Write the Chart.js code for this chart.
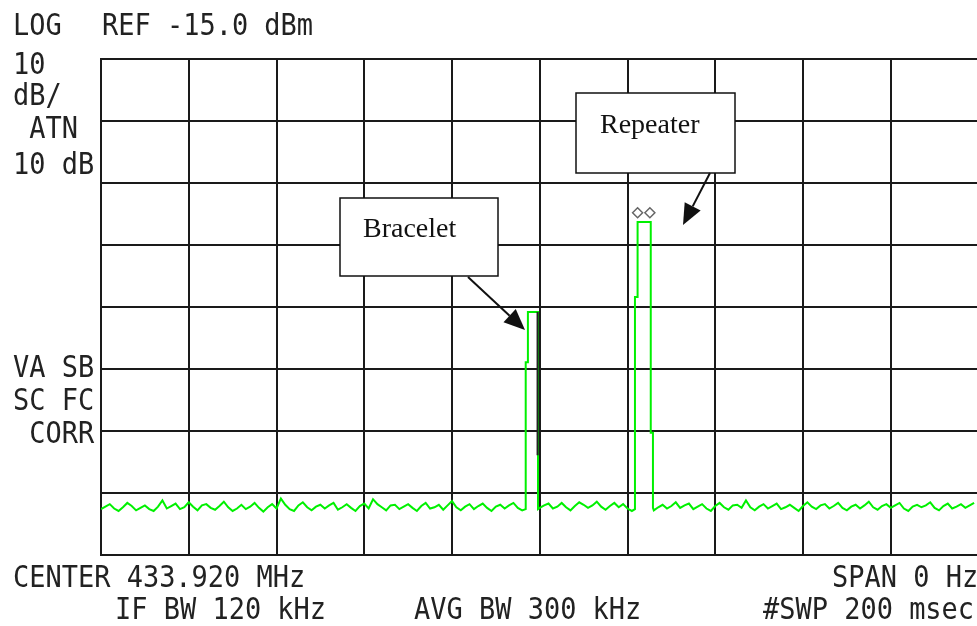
<!DOCTYPE html>
<html>
<head>
<meta charset="utf-8">
<script src="https://cdn.jsdelivr.net/npm/chart.js@4.4.1/dist/chart.umd.min.js"></script>
<style>
  html, body { margin: 0; padding: 0; background: #fff; overflow: hidden; }
  #wrap { width: 977px; height: 626px; overflow: hidden; }
</style>
</head>
<body>
<div id="wrap"><canvas id="trace" width="985" height="626"></canvas></div>
<script>
// sweep: 0 Hz span, 200 ms sweep -> x axis is time in ms, y is dBm
const refLevel = -15;
const dbPerDiv = 10;
const sweepMs = 200;

// noise floor, one value per ms
const noiseA = [ // 0..96 ms
  -87.6,-87.2,-86.8,-87.5,-87.9,-87.3,-86.6,-87.1,-87.8,-87.4,
  -87.0,-87.6,-87.9,-87.2,-86.2,-87.5,-87.1,-86.7,-87.6,-87.3,
  -86.5,-87.2,-87.8,-87.0,-86.8,-87.4,-87.7,-87.1,-86.4,-87.3,
  -87.9,-87.5,-86.9,-87.6,-87.2,-86.6,-87.4,-88.0,-87.3,-86.8,
  -87.5,-85.9,-86.9,-87.6,-87.9,-87.0,-86.5,-87.3,-87.8,-87.2,
  -86.9,-87.5,-87.0,-86.6,-87.7,-87.3,-86.8,-87.4,-87.9,-87.1,
  -86.7,-87.5,-86.0,-86.8,-87.3,-87.8,-87.0,-86.9,-87.6,-87.2,
  -86.8,-87.4,-87.9,-87.1,-86.6,-87.5,-87.3,-86.9,-87.7,-87.0,
  -86.3,-87.3,-87.8,-87.2,-86.8,-87.6,-87.1,-86.7,-87.4,-87.9,
  -87.2,-86.9,-87.5,-87.0,-86.6,-87.4,-87.8
];
const noiseB = [ // 100..121 ms
  -87.4,-87.0,-86.7,-87.5,-87.2,-86.6,-87.3,-87.8,-87.1,-86.5,
  -86.9,-87.4,-87.0,-86.4,-87.2,-87.7,-87.1,-86.6,-87.3,-86.8,
  -87.5,-87.9
];
const noiseC = [ // 126..199 ms
  -87.8,-87.3,-86.9,-87.5,-87.1,-86.5,-87.4,-87.0,-86.7,-87.6,
  -87.2,-86.8,-87.5,-87.9,-87.1,-86.6,-87.3,-87.7,-87.0,-86.9,
  -87.4,-86.2,-87.3,-87.8,-87.2,-86.8,-87.5,-87.1,-86.7,-87.6,
  -87.3,-86.9,-87.4,-87.9,-87.1,-86.5,-87.2,-87.6,-87.0,-86.8,
  -87.5,-87.1,-86.6,-87.4,-87.8,-87.2,-86.9,-87.5,-87.0,-86.4,
  -87.3,-87.7,-87.1,-86.8,-87.4,-87.0,-86.6,-87.5,-87.9,-87.2,
  -86.9,-87.3,-87.0,-86.5,-87.4,-87.8,-87.1,-86.7,-87.5,-87.2,
  -86.8,-87.4,-87.0,-86.6
];
const noiseStartMs = [0, 100, 126];

// bursts (ms, dBm)
const braceletMs = [96.8, 96.8, 97.3, 97.3, 99.6, 99.6];
const braceletDb = [-87.6, -63.9, -63.9, -55.8, -55.8, -87.6];
const repeaterMs = [121.7, 121.7, 122.3, 122.3, 125.3, 125.3, 125.8, 125.8];
const repeaterDb = [-87.6, -53.4, -53.4, -41.3, -41.3, -75.3, -75.3, -87.4];

// markers on repeater peak
const markerMs = [122.3, 125.1];
const markerDb = [-39.8, -39.8];

// dark stroke on bracelet falling edge
const darkMs = [99.5, 99.5];
const darkDb = [-55.8, -78.9];

function pts(xs, ys) {
  return xs.map((x, i) => ({ x: x, y: ys[i] }));
}
function noisePts(arr, start) {
  return arr.map((v, i) => ({ x: start + i, y: v }));
}

const tracePoints = [].concat(
  noisePts(noiseA, noiseStartMs[0]),
  pts(braceletMs, braceletDb),
  noisePts(noiseB, noiseStartMs[1]),
  pts(repeaterMs, repeaterDb),
  noisePts(noiseC, noiseStartMs[2])
);

const monoFont = '31px "DejaVu Sans Mono"';
const screenText = [
  // text, left x, centre y
  ["LOG", 13, 24],
  ["REF -15.0 dBm", 102, 24],
  ["10", 13, 63],
  ["dB/", 13, 94],
  [" ATN", 13, 127],
  ["10 dB", 13, 163],
  ["VA SB", 13, 366],
  ["SC FC", 13, 399],
  [" CORR", 13, 432],
  ["CENTER 433.920 MHz", 13, 576],
  ["SPAN 0 Hz", 832, 576],
  ["IF BW 120 kHz", 115, 608],
  ["AVG BW 300 kHz", 414, 608],
  ["#SWP 200 msec", 763, 608]
];

function arrow(ctx, x1, y1, x2, y2) {
  const a = Math.atan2(y2 - y1, x2 - x1);
  const len = 21, half = 9;
  const bx = x2 - len * Math.cos(a), by = y2 - len * Math.sin(a);
  ctx.beginPath();
  ctx.moveTo(x1, y1);
  ctx.lineTo(bx, by);
  ctx.stroke();
  ctx.beginPath();
  ctx.moveTo(x2, y2);
  ctx.lineTo(bx + half * Math.sin(a), by - half * Math.cos(a));
  ctx.lineTo(bx - half * Math.sin(a), by + half * Math.cos(a));
  ctx.closePath();
  ctx.fill();
}

const screenPlugin = {
  id: "screen",
  afterDatasetsDraw(chart) {
    const ctx = chart.ctx;
    ctx.save();
    // callout boxes
    ctx.fillStyle = "#fff";
    ctx.strokeStyle = "#111";
    ctx.lineWidth = 1.5;
    ctx.fillRect(576, 93, 159, 80);
    ctx.strokeRect(576, 93, 159, 80);
    ctx.fillRect(340, 198, 158, 78);
    ctx.strokeRect(340, 198, 158, 78);
    ctx.fillStyle = "#111";
    ctx.font = '28px "Liberation Serif"';
    ctx.textBaseline = "alphabetic";
    ctx.fillText("Repeater", 600, 133);
    ctx.fillText("Bracelet", 363, 237);
    ctx.lineWidth = 2;
    arrow(ctx, 468, 277, 525, 330);
    arrow(ctx, 710, 173, 683, 225);

    // instrument annotations
    ctx.font = monoFont;
    ctx.fillStyle = "#222";
    ctx.textBaseline = "alphabetic";
    screenText.forEach(([t, x, y]) => {
      ctx.save();
      ctx.translate(x, y + 11);
      ctx.scale(0.87, 1);
      ctx.fillText(t, 0, 0);
      ctx.restore();
    });
    ctx.restore();
  }
};

const gridStyle = { color: "#1a1a1a", lineWidth: 2, drawTicks: false, tickLength: 0 };
const borderStyle = { display: true, color: "#1a1a1a", width: 2 };

new Chart(document.getElementById("trace"), {
  type: "scatter",
  data: {
    datasets: [
      {
        data: pts(markerMs, markerDb),
        showLine: false,
        pointStyle: "rectRot",
        pointRadius: 5,
        pointBorderWidth: 1.5,
        pointBorderColor: "#666",
        pointBackgroundColor: "rgba(255,255,255,0)"
      },
      {
        data: pts(darkMs, darkDb),
        showLine: true,
        borderColor: "#222",
        borderWidth: 2,
        pointRadius: 0
      },
      {
        data: tracePoints,
        showLine: true,
        borderColor: "#00f000",
        borderWidth: 2,
        pointRadius: 0,
        tension: 0
      }
    ]
  },
  options: {
    responsive: false,
    animation: false,
    events: [],
    layout: { padding: { left: 101, top: 59, right: 4, bottom: 71 } },
    plugins: { legend: { display: false }, tooltip: { enabled: false } },
    scales: {
      x: {
        type: "linear",
        min: 0,
        max: sweepMs,
        ticks: { display: false, stepSize: 20 },
        grid: gridStyle,
        border: borderStyle
      },
      y: {
        min: refLevel - 8 * dbPerDiv,
        max: refLevel,
        ticks: { display: false, stepSize: dbPerDiv },
        grid: gridStyle,
        border: borderStyle
      }
    }
  },
  plugins: [screenPlugin]
});
</script>
</body>
</html>
